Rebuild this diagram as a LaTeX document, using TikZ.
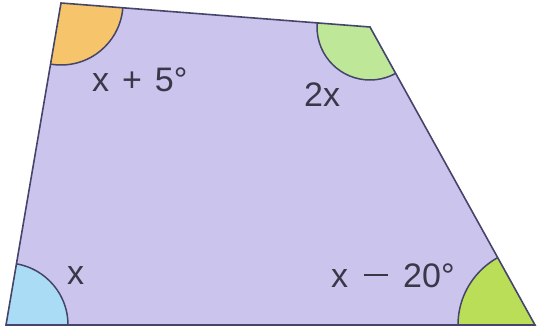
\documentclass[tikz,border=0pt]{standalone}
\usepackage{fontspec}
\setmainfont{Liberation Sans}
\definecolor{quadfill}{HTML}{CBC4EC}
\definecolor{edgecol}{HTML}{45456B}
\definecolor{orangeang}{HTML}{F6C46A}
\definecolor{greenA}{HTML}{BEE897}
\definecolor{greenB}{HTML}{BADE58}
\definecolor{blueang}{HTML}{AADCF5}
\definecolor{txt}{HTML}{383848}
\tikzset{
  anglelbl/.style={anchor=base west, inner sep=0pt, text=txt, font=\fontsize{34}{40}\selectfont},
  edge/.style={draw=edgecol, line width=1.6pt, line join=miter},
  arcline/.style={draw=edgecol, line width=1.5pt}
}
\newcommand{\longminus}{\rule[10.5pt]{24pt}{2.2pt}}
\begin{document}
\begin{tikzpicture}[x=1pt,y=-1pt]
\useasboundingbox (0,0) rectangle (537,328);
\coordinate (A) at (61,3);
\coordinate (B) at (370,27);
\coordinate (C) at (535,325);
\coordinate (D) at (6,325);
\fill[quadfill] (A) -- (B) -- (C) -- (D) -- cycle;
\begin{scope}
  \clip (A) -- (B) -- (C) -- (D) -- cycle;
  \fill[orangeang] (A) circle[radius=62pt];
  \draw[arcline] (A) circle[radius=62pt];
  \fill[greenA] (B) circle[radius=53pt];
  \draw[arcline] (B) circle[radius=53pt];
  \fill[greenB] (C) circle[radius=77pt];
  \draw[arcline] (C) circle[radius=77pt];
  \fill[blueang] (D) circle[radius=62pt];
  \draw[arcline] (D) circle[radius=62pt];
\end{scope}
\draw[edge] (A) -- (B) -- (C) -- (D) -- cycle;
\node[anglelbl] (la) at (92,92) {x\hspace{0.38em}+\hspace{0.38em}5°};
\node[anglelbl] (lb) at (304,107) {2x};
\node[anglelbl] (lc) at (67,284) {x};
\node[anglelbl] (ld) at (331,287) {x\hspace{16pt}\longminus\hspace{15pt}20°};
\end{tikzpicture}
\end{document}
